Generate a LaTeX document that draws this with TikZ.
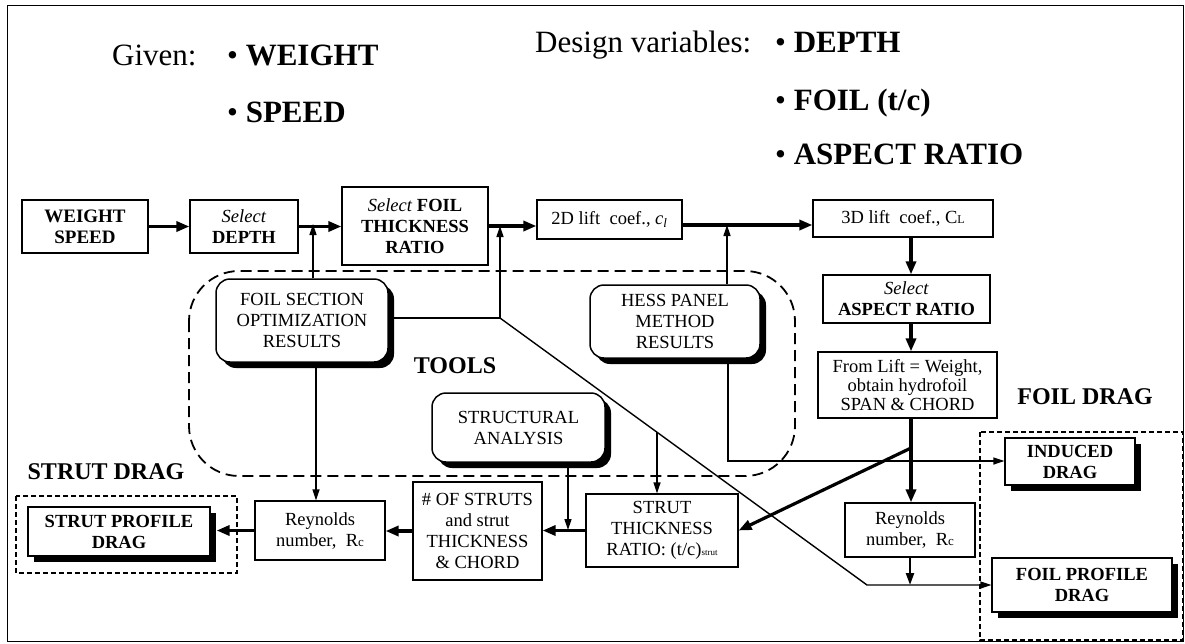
\documentclass[tikz,border=0pt]{standalone}
\usepackage{fontspec}
\setmainfont{Liberation Serif}
\usetikzlibrary{arrows.meta,shadows,calc}
\begin{document}
\begin{tikzpicture}[x=1pt,y=-1pt]
\tikzset{
 bx/.style={draw, line width=1.2pt, fill=white, align=center, inner sep=0pt, font=\fontsize{18.5}{21}\selectfont},
 shad/.style={drop shadow={shadow xshift=6pt, shadow yshift=-6pt, fill=black, opacity=1}},
 tool/.style={bx, rounded corners=14pt, line width=1.5pt, shad},
 res/.style={bx, shad, font=\bfseries\fontsize{18.5}{21}\selectfont},
 thk/.style={line width=3.2pt, -{Triangle[length=13pt,width=10pt]}},
 thn/.style={line width=1.4pt, -{Triangle[length=11pt,width=7pt]}},
 ln/.style={line width=1.4pt},
 big/.style={font=\bfseries\fontsize{24}{28}\selectfont, inner sep=0pt},
 top/.style={font=\fontsize{31}{36}\selectfont, inner sep=0pt, anchor=base west},
 tools/.style={line width=1.8pt, dash pattern=on 11pt off 6pt, rounded corners=50pt},
 grp/.style={line width=1.2pt, dash pattern=on 5pt off 3pt},
}
\useasboundingbox (0,0) rectangle (1185,643);
\draw[line width=0.8pt] (7,5) rectangle (1183,641);

% top texts
\node[top] (given) at (112,65) {Given:};
\node[top] (gw) at (227,65) {• \textbf{WEIGHT}};
\node[top] (gs) at (227,122) {• \textbf{SPEED}};
\node[top] (dv) at (535,52) {Design variables:};
\node[top] (d1t) at (775,52) {• \textbf{DEPTH}};
\node[top] (d2t) at (775,110) {• \textbf{FOIL (t/c)}};
\node[top] (d3t) at (775,164) {• \textbf{ASPECT RATIO}};

% tools region
\draw[tools] (189,271) rectangle (795,476);
\node[big] (toolslbl) at (455,366) {TOOLS};
\node[big] (sdlbl) at (106,472) {STRUT DRAG};
\node[big] (fdlbl) at (1085,397) {FOIL DRAG};
\draw[grp] (16,496) rectangle (237,573);
\draw[grp] (980,432) rectangle (1183,640);

% main row
\node[bx, font=\bfseries\fontsize{19}{21}\selectfont, minimum width=126, minimum height=53] (ws) at (85,226.5) {WEIGHT\\SPEED};
\node[bx, minimum width=108, minimum height=53] (dep) at (244,226.5) {\textit{Select}\\\textbf{DEPTH}};
\node[bx, minimum width=146, minimum height=78] (foil) at (415,226) {\textit{Select} \textbf{FOIL}\\\textbf{THICKNESS}\\\textbf{RATIO}};
\node[bx, minimum width=145, minimum height=39] (cl2) at (609.5,219.5) {2D lift\ \ coef.,\ \textit{c\textsubscript{l}}};
\node[bx, minimum width=180, minimum height=37] (cl3) at (903,218.5) {3D lift\ \ coef.,\ C{\fontsize{12}{12}\selectfont L}};
\node[bx, minimum width=167, minimum height=48] (asp) at (906.5,299) {\textit{Select}\\\textbf{ASPECT RATIO}};
\node[bx, font=\fontsize{18.5}{19}\selectfont, minimum width=179, minimum height=66] (lift) at (907.5,385) {From Lift = Weight,\\obtain hydrofoil\\SPAN \& CHORD};

% tools
\node[tool, minimum width=172, minimum height=83] (fso) at (302,320.5) {FOIL SECTION\\OPTIMIZATION\\RESULTS};
\node[tool, minimum width=170, minimum height=73] (hess) at (675,321.5) {HESS PANEL\\METHOD\\RESULTS};
\node[tool, minimum width=173, minimum height=69] (sa) at (518.5,427.5) {STRUCTURAL\\ANALYSIS};

% lower row
\node[bx, minimum width=152, minimum height=73] (sth) at (662,530.5) {STRUT\\THICKNESS\\RATIO: (t/c){\fontsize{9}{9}\selectfont strut}};
\node[bx, minimum width=129, minimum height=98] (nst) at (477.5,531) {\# OF STRUTS\\and strut\\THICKNESS\\\& CHORD};
\node[bx, minimum width=130, minimum height=59] (re1) at (320,530.5) {Reynolds\\number,\ \ R{\fontsize{13}{13}\selectfont c}};
\node[bx, minimum width=130, minimum height=54] (re2) at (910,530) {Reynolds\\number,\ \ R{\fontsize{13}{13}\selectfont c}};
\node[res, minimum width=182, minimum height=49] (spd) at (119,531.5) {STRUT PROFILE\\DRAG};
\node[res, minimum width=130, minimum height=47] (ind) at (1070,461.5) {INDUCED\\DRAG};
\node[res, minimum width=180, minimum height=54] (fprof) at (1082,585) {FOIL PROFILE\\DRAG};

% junction coordinates
\coordinate (d1) at (313,224);
\coordinate (f1) at (500,226);
\coordinate (j1) at (500,318);
\coordinate (j2) at (867,585);
\coordinate (jd) at ($(j1)!0.4278!(j2)$);
\coordinate (m) at (700,225);
\coordinate (h1) at (727,225);
\coordinate (hb) at (728,461);
\coordinate (a) at (911,300);
\coordinate (j3) at (911,448);
\coordinate (s1) at (568,530);
\coordinate (r1) at (316,400);

% connectors main row
\draw[thk] (ws.east) -- (dep.west);
\draw[thk] (dep.east) -- (dep.east -| foil.west);
\draw[thk] (foil.east) -- (foil.east -| cl2.west);
\draw[thk] (cl2.east |- m) -- (cl3.west |- m);
\draw[thk] (cl3.south -| a) -- (asp.north -| a);
\draw[thk] (asp.south -| a) -- (lift.north -| a);
\draw[thk] (lift.south -| a) -- (re2.north -| a);
\draw[thk] (j3) -- (sth.east);

% tool connectors
\draw[thn] (fso.north -| d1) -- (d1);
\draw[ln] (fso.east |- j1) -- (j1);
\draw[thn] (j1) -- (f1);
\draw[thn] (j1) -- (j2) -- (fprof.west);
\draw[thn] (hess.north -| h1) -- (h1);
\draw[thn] (hess.south -| hb) -- (hb) -- (ind.west |- hb);
\draw[thn] (jd) -- (sth.north -| jd);
\draw[thn] (sa.south -| s1) -- (s1);
\draw[thn] (fso.south -| r1) -- (re1.north -| r1);
\draw[line width=2.4pt, -{Triangle[length=12pt,width=8pt]}] (re2.south) -- (re2.south |- j2);

% lower row connectors
\draw[thk] (sth.west) -- (sth.west -| nst.east);
\draw[thk] (nst.west) -- (nst.west -| re1.east);
\draw[thk, shorten >=6pt] (re1.west) -- (re1.west -| spd.east);
\end{tikzpicture}
\end{document}
